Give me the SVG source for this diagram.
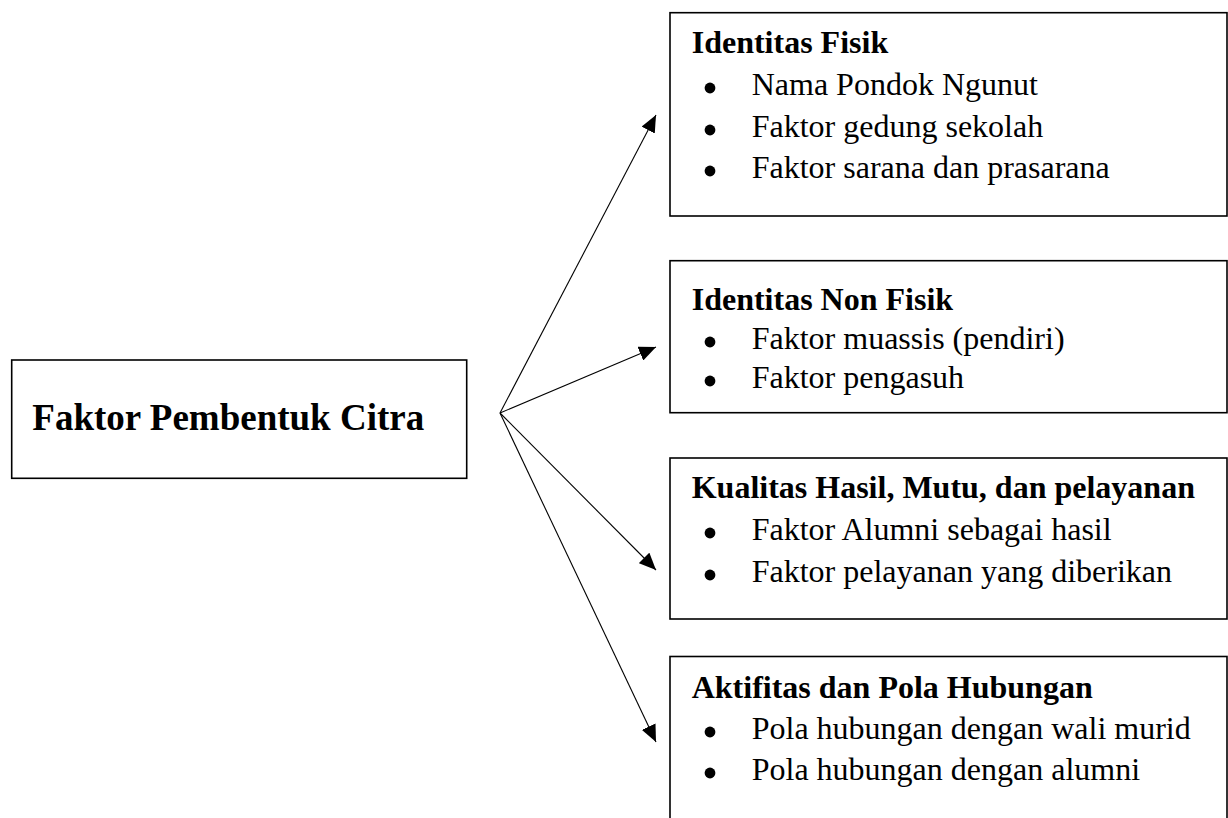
<svg xmlns="http://www.w3.org/2000/svg" width="1228" height="818" viewBox="0 0 1228 818">
<style>
.box{fill:#fff;stroke:#000;stroke-width:1.6}
.t{font-family:"Liberation Serif","Times New Roman",serif;font-size:32px;fill:#000}
.h{font-weight:bold}
.main{font-family:"Liberation Serif","Times New Roman",serif;font-size:37px;font-weight:bold;fill:#000}
.conn{stroke:#000;stroke-width:1.1;fill:none;marker-end:url(#arr)}
.b{fill:#000}
</style>
<defs>
<marker id="arr" viewBox="0 0 17 15" refX="17" refY="7.5" markerWidth="17" markerHeight="15" markerUnits="userSpaceOnUse" orient="auto">
<path d="M0,0 L17,7.5 L0,15 z" fill="#000"/>
</marker>
</defs>
<rect width="1228" height="818" fill="#fff"/>
<g id="main">
<rect class="box" x="11.7" y="360" width="455" height="118.3"/>
<text class="main" x="32.3" y="430">Faktor Pembentuk Citra</text>
</g>
<g id="identitas-fisik">
<rect class="box" x="670" y="12.7" width="557" height="203.3"/>
<text class="t h" x="691.7" y="53">Identitas Fisik</text>
<circle class="b" cx="710" cy="88" r="5.4"/><text class="t" x="751.7" y="95">Nama Pondok Ngunut</text>
<circle class="b" cx="710" cy="130" r="5.4"/><text class="t" x="751.7" y="137">Faktor gedung sekolah</text>
<circle class="b" cx="710" cy="171" r="5.4"/><text class="t" x="751.7" y="178">Faktor sarana dan prasarana</text>
</g>
<g id="identitas-non-fisik">
<rect class="box" x="670" y="260.7" width="557" height="152"/>
<text class="t h" x="691.7" y="310">Identitas Non Fisik</text>
<circle class="b" cx="710" cy="342" r="5.4"/><text class="t" x="751.7" y="349">Faktor muassis (pendiri)</text>
<circle class="b" cx="710" cy="381" r="5.4"/><text class="t" x="751.7" y="388">Faktor pengasuh</text>
</g>
<g id="kualitas">
<rect class="box" x="670" y="458" width="557" height="161"/>
<text class="t h" x="691.7" y="498">Kualitas Hasil, Mutu, dan pelayanan</text>
<circle class="b" cx="710" cy="533" r="5.4"/><text class="t" x="751.7" y="540">Faktor Alumni sebagai hasil</text>
<circle class="b" cx="710" cy="575" r="5.4"/><text class="t" x="751.7" y="582">Faktor pelayanan yang diberikan</text>
</g>
<g id="aktifitas">
<rect class="box" x="670" y="656.5" width="557" height="200"/>
<text class="t h" x="691.7" y="698">Aktifitas dan Pola Hubungan</text>
<circle class="b" cx="710" cy="732" r="5.4"/><text class="t" x="751.7" y="739">Pola hubungan dengan wali murid</text>
<circle class="b" cx="710" cy="773" r="5.4"/><text class="t" x="751.7" y="780">Pola hubungan dengan alumni</text>
</g>
<g id="connectors">
<line class="conn" x1="500" y1="413" x2="656" y2="115"/>
<line class="conn" x1="500" y1="413" x2="656" y2="347"/>
<line class="conn" x1="500" y1="413" x2="656" y2="570"/>
<line class="conn" x1="500" y1="413" x2="656" y2="742"/>
</g>
</svg>
